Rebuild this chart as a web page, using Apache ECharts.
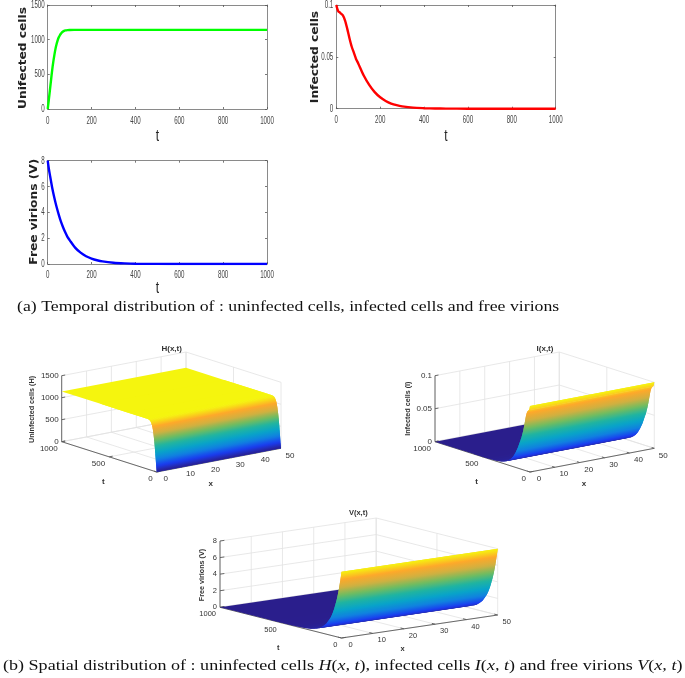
<!DOCTYPE html>
<html><head><meta charset="utf-8">
<style>html,body{margin:0;padding:0;background:#fff}#c{width:685px;height:678px}</style>
<script src="https://cdn.jsdelivr.net/npm/echarts@6/dist/echarts.min.js"></script></head>
<body><div id="c"></div>
<script>
// --- data ---
const tH=[0,5,10,15,20,25,30,35,40,45,50,55,60,65,70,75,80,90,100,120,150,300,600,1000];
const uninfected=[0,130,270,410,550,670,770,860,930,985,1030,1060,1085,1105,1118,1127,1133,1138,1140,1141,1141,1141,1141,1141];
const tI=[0,5,10,15,20,30,40,50,60,70,80,90,100,125,150,175,200,225,250,275,300,350,400,450,500,600,1000];
const infected=[0.1,0.096,0.0936,0.093,0.092,0.09,0.085,0.077,0.068,0.06,0.054,0.048,0.0437,0.032,0.023,0.016,0.011,0.0075,0.005,0.0034,0.0023,0.001,0.0005,0.0002,0.0001,0,0];
const tV=[0,5,10,20,30,40,50,60,70,80,90,100,125,150,175,200,225,250,300,350,400,500,600,1000];
const virions=[8,7.4,6.9,5.95,5.15,4.45,3.85,3.3,2.85,2.45,2.1,1.85,1.27,0.88,0.6,0.42,0.29,0.2,0.1,0.05,0.02,0.01,0,0];
const ticks2dT=[0,200,400,600,800,1000];
const ticksH2d=[0,500,1000,1500];
const ticksI2d=[0,0.05,0.1];
const ticksV2d=[0,2,4,6,8];
const xTicks3d=[0,10,20,30,40,50];
const tTicks3d=[0,500,1000];
const zTicksH=[0,500,1000,1500];
const zTicksI=[0,0.05,0.1];
const zTicksV=[0,2,4,6,8];
const captionA='(a) Temporal distribution of : uninfected cells, infected cells and free virions';
const parulaStops=['#2a1e8c','#1a3cf0','#1080e0','#08a4c8','#20b4a0','#70bc60','#d0b040','#fea82a','#f5f50e'];

// --- 3D views: screen anchors of the axis box ---
const views=[
 {title:'H(x,t)',yl:'Uninfected cells (H)',t:tH,z:uninfected,zMax:1500,zTicks:zTicksH,cMax:1141,
  left:[61.7,441.7],front:[156.7,472],right:[281,448.3],h:66,fs:8,
  titleAt:[171.7,348.3],ylAt:[32.3,409.5],tAt:[103.3,481.7],xAt:[210.7,484]},
 {title:'I(x,t)',yl:'Infected cells (I)',t:tI,z:infected,zMax:0.1,zTicks:zTicksI,cMax:0.1,
  left:[435,441.7],front:[530,472],right:[654.3,448.3],h:66,fs:8,
  titleAt:[545,348.3],ylAt:[408.3,408.7],tAt:[476.7,481.7],xAt:[584,484]},
 {title:'V(x,t)',yl:'Free virions (V)',t:tV,z:virions,zMax:8,zTicks:zTicksV,cMax:8,
  left:[220,607.3],front:[341.5,638],right:[497.7,615],h:66.3,fs:7.5,
  titleAt:[358.3,513.3],ylAt:[201.7,575],tAt:[278.3,647.7],xAt:[402.7,649.3]}
];
function hex(c){return [1,3,5].map(i=>parseInt(c.substr(i,2),16));}
function parula(v){
  v=Math.max(0,Math.min(1,v))*(parulaStops.length-1);
  const i=Math.min(parulaStops.length-2,Math.floor(v)),f=v-i,a=hex(parulaStops[i]),b=hex(parulaStops[i+1]);
  return 'rgb('+a.map((q,k)=>Math.round(q+(b[k]-q)*f)).join(',')+')';
}
function projector(v){
  const ex=[(v.right[0]-v.front[0])/50,(v.right[1]-v.front[1])/50];
  const et=[(v.left[0]-v.front[0])/1000,(v.left[1]-v.front[1])/1000];
  const ez=-v.h/v.zMax;
  return (x,t,z)=>[v.front[0]+x*ex[0]+t*et[0],v.front[1]+x*ex[1]+t*et[1]+z*ez];
}
const TXT='#333333',GRID='#e2e2e2',AX='#5a5a5a',FONT='"Liberation Sans",Arial,sans-serif';
function lineSeries(P,lines,color,w){
  return {type:'custom',coordinateSystem:'none',silent:true,animation:false,clip:false,
    data:lines.map((_,i)=>[i]),
    renderItem:(p)=>{const l=lines[p.dataIndex],a=P(l[0],l[1],l[2]),b=P(l[3],l[4],l[5]);
      return {type:'line',shape:{x1:a[0],y1:a[1],x2:b[0],y2:b[1]},style:{stroke:color,lineWidth:w}};}};
}
function surfaceSeries(v,P){
  const ex=[v.right[0]-v.front[0],v.right[1]-v.front[1]],len=Math.hypot(ex[0],ex[1]);
  const n=[-ex[1]/len,ex[0]/len];
  const idx=[];for(let i=v.t.length-2;i>=0;i--)idx.push(i);
  return {type:'custom',coordinateSystem:'none',silent:true,animation:false,clip:false,
    data:idx.map(i=>{const j=Math.max(i-1,0);return [v.t[i],v.z[i],v.t[i+1],v.z[i+1],v.t[j],v.z[j]];}),
    renderItem:(p,api)=>{
      const t0=api.value(0),z0=api.value(1),t1=api.value(2),z1=api.value(3),tp=api.value(4),zp=api.value(5);
      const a=P(0,t0,z0),d=P(0,t1,z1);
      const dist=(d[0]-a[0])*n[0]+(d[1]-a[1])*n[1];
      let fill;
      if(Math.abs(z1-z0)<1e-9*v.zMax||Math.abs(dist)<0.01) fill=parula(z0/v.cMax);
      else{
        const stops=[0,.25,.5,.75,1].map(f=>({offset:f,color:parula((z0+(z1-z0)*f)/v.cMax)}));
        fill=new echarts.graphic.LinearGradient(a[0],a[1],a[0]+n[0]*dist,a[1]+n[1]*dist,stops,true);
      }
      // each strip also runs under the next nearer one, so no seam shows between strips
      return {type:'polygon',shape:{points:[P(0,tp,zp),P(50,tp,zp),P(50,t0,z0),P(50,t1,z1),d,a]},style:{fill:fill}};
    }};
}
function textSeries(items){
  return {type:'custom',coordinateSystem:'none',silent:true,animation:false,clip:false,
    data:items.map((_,i)=>[i]),
    renderItem:(p)=>{const o=items[p.dataIndex];
      return {type:'text',x:o.x,y:o.y,rotation:o.rot||0,scaleX:o.sx||1,
        style:{text:o.text,fill:o.fill||TXT,font:o.font,textAlign:o.align||'center',textVerticalAlign:'middle'}};}};
}
const series=[];
views.forEach(v=>{
  const P=projector(v),Z=v.zMax,grid=[],axis=[],labels=[];
  v.zTicks.forEach(z=>{grid.push([0,1000,z,50,1000,z],[50,1000,z,50,0,z]);});
  xTicks3d.forEach(x=>{grid.push([x,1000,0,x,1000,Z],[x,0,0,x,1000,0]);});
  tTicks3d.forEach(t=>{grid.push([50,t,0,50,t,Z],[0,t,0,50,t,0]);});
  axis.push([0,1000,0,0,1000,Z],[0,0,0,0,1000,0],[0,0,0,50,0,0]);
  v.zTicks.forEach(z=>{axis.push([0,1000,z,1.4,1000,z]);
    const a=P(0,1000,z);labels.push({text:String(z),x:a[0]-3,y:a[1],align:'right',font:v.fs+'px '+FONT});});
  xTicks3d.forEach(x=>{axis.push([x,0,0,x,28,0]);
    const a=P(x,0,0);labels.push({text:String(x),x:a[0]+9,y:a[1]+7,font:v.fs+'px '+FONT});});
  tTicks3d.forEach(t=>{axis.push([0,t,0,1.4,t,0]);
    const a=P(0,t,0);labels.push({text:String(t),x:a[0]-4,y:a[1]+7,align:'right',font:v.fs+'px '+FONT});});
  labels.push({text:v.title,x:v.titleAt[0],y:v.titleAt[1],font:'bold '+v.fs+'px '+FONT});
  labels.push({text:v.yl,x:v.ylAt[0],y:v.ylAt[1],rot:Math.PI/2,font:'bold 7.2px '+FONT});
  labels.push({text:'t',x:v.tAt[0],y:v.tAt[1],font:'bold '+v.fs+'px '+FONT});
  labels.push({text:'x',x:v.xAt[0],y:v.xAt[1],font:'bold '+v.fs+'px '+FONT});
  series.push(lineSeries(P,grid,GRID,0.8),lineSeries(P,axis,AX,0.9),surfaceSeries(v,P),textSeries(labels));
});

// --- 2D charts ---
const grids=[{left:47.7,top:5,width:219.3,height:104},{left:336.3,top:5,width:219.4,height:103.7},{left:47.7,top:160.7,width:219.3,height:103.3}];
const yConf=[{name:'Unifected cells',max:1500,interval:500,ticks:ticksH2d,nameX:23,nameY:58,tY:136.7},
             {name:'Infected cells',max:0.1,interval:0.05,ticks:ticksI2d,nameX:315,nameY:57,tY:136.7},
             {name:'Free virions (V)',max:8,interval:2,ticks:ticksV2d,nameX:34,nameY:211.7,tY:289}];
const LINE='#8a8a8a';
const axisBase={axisLine:{show:true,onZero:false,lineStyle:{color:LINE,width:1}},axisTick:{show:true,inside:true,length:2,lineStyle:{color:'#555',width:0.8}},axisLabel:{show:false},splitLine:{show:false},silent:true};
const xAxes=[],yAxes=[],titles2d=[];
grids.forEach((g,i)=>{
  const c=yConf[i];
  xAxes.push({...axisBase,type:'value',gridIndex:i,position:'bottom',min:0,max:1000,interval:200});
  xAxes.push({...axisBase,type:'value',gridIndex:i,position:'top',min:0,max:1000,interval:200});
  yAxes.push({...axisBase,type:'value',gridIndex:i,position:'left',min:0,max:c.max,interval:c.interval});
  yAxes.push({...axisBase,type:'value',gridIndex:i,position:'right',min:0,max:c.max,interval:c.interval});
  const tickFont='11px "Liberation Sans",sans-serif';
  // tall narrow tick labels placed through the axes' own scale
  series.push({type:'custom',coordinateSystem:'cartesian2d',xAxisIndex:i*2,yAxisIndex:i*2,silent:true,animation:false,clip:false,
    data:ticks2dT.map(t=>[t,0]),
    renderItem:(p,api)=>{const q=api.coord([api.value(0),0]);
      return {type:'text',x:q[0],y:q[1]+(i==2?11:11.7),scaleX:.56,style:{text:String(api.value(0)),fill:'#444',font:tickFont,textAlign:'center',textVerticalAlign:'middle'}};}});
  series.push({type:'custom',coordinateSystem:'cartesian2d',xAxisIndex:i*2,yAxisIndex:i*2,silent:true,animation:false,clip:false,
    data:c.ticks.map(v=>[0,v]),
    renderItem:(p,api)=>{const q=api.coord([0,api.value(1)]);
      return {type:'text',x:q[0]-3,y:q[1],scaleX:.56,style:{text:String(api.value(1)),fill:'#444',font:tickFont,textAlign:'right',textVerticalAlign:'middle'}};}});
  titles2d.push({text:c.name,x:c.nameX,y:c.nameY,rot:Math.PI/2,sx:1.22,fill:'#222',font:'bold 10px "DejaVu Sans",sans-serif'});
  titles2d.push({text:'t',x:g.left+g.width/2,y:c.tY,sx:.75,fill:'#222',font:'16px "Liberation Sans",sans-serif'});
});
series.push(textSeries(titles2d));
const zip=(a,b)=>a.map((t,i)=>[t,b[i]]);
[[tH,uninfected,'#00ff00'],[tI,infected,'#ff0000'],[tV,virions,'#0000ff']].forEach((s,i)=>{
  series.push({type:'line',xAxisIndex:i*2,yAxisIndex:i*2,data:zip(s[0],s[1]),smooth:0.25,showSymbol:false,animation:false,silent:true,clip:true,
    lineStyle:{color:s[2],width:2.4}});
});

const chart=echarts.init(document.getElementById('c'),null,{renderer:'canvas',width:685,height:678});
const SERIF='"Liberation Serif",serif';
chart.setOption({
  animation:false,backgroundColor:'#fff',grid:grids,xAxis:xAxes,yAxis:yAxes,series:series,
  tooltip:{show:false},
  graphic:[
   {type:'text',x:17,y:307,scaleX:1.139,silent:true,style:{text:captionA,font:'15.6px '+SERIF,fill:'#111',textVerticalAlign:'middle'}},
   {type:'text',x:3,y:666,scaleX:1.158,silent:true,style:{textVerticalAlign:'middle',
     text:'{r|(b) Spatial distribution of : uninfected cells }{i|H}{r|(}{i|x, t}{r|), infected cells }{i|I}{r|(}{i|x, t}{r|) and free virions }{i|V}{r|(}{i|x, t}{r|)}',
     rich:{r:{font:'15.6px '+SERIF,fill:'#111'},i:{font:'italic 15.6px '+SERIF,fill:'#111'}}}}
  ]
});
</script></body></html>
